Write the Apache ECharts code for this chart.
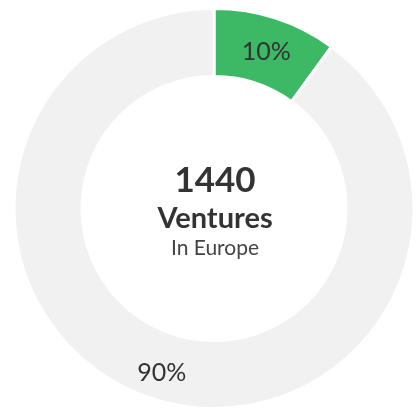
<!DOCTYPE html>
<html><head><meta charset="utf-8">
<script src="https://cdn.jsdelivr.net/npm/echarts@6/dist/echarts.min.js"></script>
<style>html,body{margin:0;padding:0;background:#fff}#c{width:416px;height:411px}</style>
</head><body><div id="c"></div>
<script>
const categories = ['In Europe', 'Other'];
const values = [10, 90];
const colors = ['#3db865', '#f1f1f1'];
const centerLines = ['1440', 'Ventures', 'In Europe'];

const chart = echarts.init(document.getElementById('c'));
chart.setOption({
  animation: false,
  series: [{
    type: 'pie',
    center: [214, 208.5],
    radius: [132, 200],
    startAngle: 90,
    clockwise: true,
    silent: true,
    data: categories.map((c, i) => ({ name: c, value: values[i], itemStyle: { color: colors[i] } })),
    itemStyle: { borderColor: '#fff', borderWidth: 3 },
    label: {
      show: true, position: 'inside', formatter: '{d}%',
      fontFamily: 'Lato', fontSize: 25, color: '#333', offset: [0, 4]
    },
    labelLine: { show: false }
  }],
  graphic: [
    { type: 'text', x: 215, y: 181, style: { text: centerLines[0], fontFamily: 'Lato', fontWeight: 'bold', fontSize: 35, fill: '#333', textAlign: 'center', textVerticalAlign: 'middle' } },
    { type: 'text', x: 215, y: 219, style: { text: centerLines[1], fontFamily: 'Lato', fontWeight: 'bold', fontSize: 29, fill: '#333', textAlign: 'center', textVerticalAlign: 'middle' } },
    { type: 'text', x: 215, y: 248, style: { text: centerLines[2], fontFamily: 'Lato', fontSize: 21, fill: '#444', textAlign: 'center', textVerticalAlign: 'middle' } }
  ]
});
</script></body></html>
